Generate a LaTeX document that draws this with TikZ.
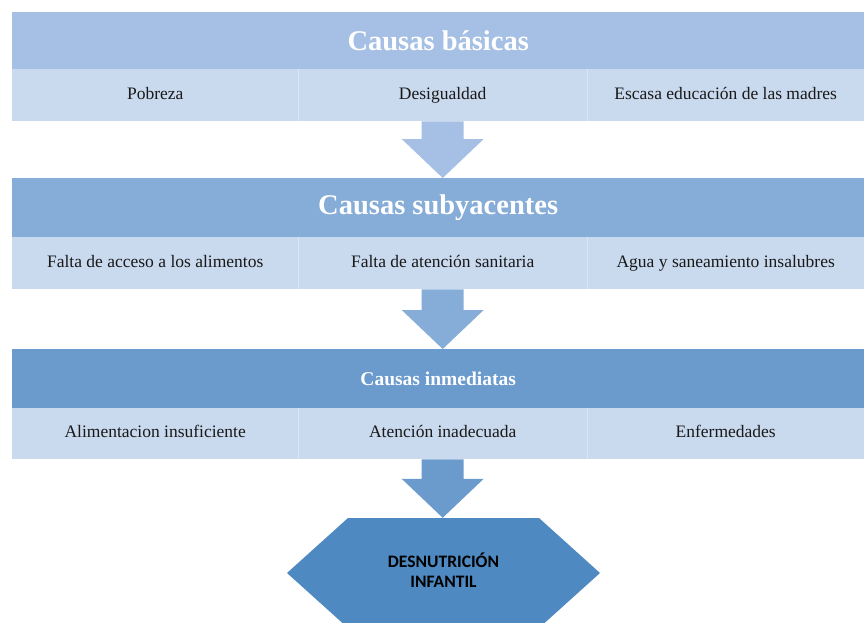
\documentclass[tikz,border=0pt]{standalone}
\usepackage{fontspec}
\setmainfont{Liberation Serif}
\newfontfamily\hexfont{Carlito}
\usepackage{tikz}
\usetikzlibrary{calc}

\definecolor{headA}{HTML}{A5C0E4}
\definecolor{headB}{HTML}{86ACD8}
\definecolor{headC}{HTML}{6B9BCD}
\definecolor{cellbg}{HTML}{C9D9EE}
\definecolor{hexfill}{HTML}{4F89C1}

\tikzset{
  head/.style={fill=#1, minimum width=852pt, minimum height=59pt, inner sep=0pt,
    anchor=north west, text=white},
  cell/.style={fill=cellbg, minimum height=52pt, inner sep=0pt, anchor=north west,
    text height=12pt, text depth=4pt, text=black!90, font=\fontsize{17.5}{20}\selectfont},
  divider/.style={draw=white, opacity=0.35, line width=0.8pt},
}

% block arrow from the middle cell of one band down to the next shape
\newcommand{\blockarrow}[3]{%
  \fill[#1] let \p1=(#2.south), \p2=(#3.north) in
    (\x1-21pt,\y1) -- (\x1+21pt,\y1) -- (\x1+21pt,\y2+39pt) -- (\x1+41pt,\y2+39pt)
    -- (\x1,\y2) -- (\x1-41pt,\y2+39pt) -- (\x1-21pt,\y2+39pt) -- cycle;}

\begin{document}
\begin{tikzpicture}[x=1pt,y=-1pt]
        \useasboundingbox (0,0) rectangle (864,623);
        % Causas basicas
        \node[head=headA, minimum height=57pt, font=\bfseries\fontsize{28.5}{32}\selectfont] (basic) at (12,12) {Causas básicas};
        \node[cell, minimum width=286pt] (basic1) at (12,69) {Pobreza};
        \node[cell, minimum width=289pt] (basic2) at (298,69) {Desigualdad};
        \node[cell, minimum width=277pt] (basic3) at (587,69) {Escasa educación de las madres};
        \draw[divider] (basic2.north west) -- (basic2.south west);
        \draw[divider] (basic3.north west) -- (basic3.south west);
        % Causas subyacentes
        \node[head=headB, font=\bfseries\fontsize{28.5}{32}\selectfont] (under) at (12,178) {Causas subyacentes};
        \node[cell, minimum width=286pt] (under1) at (12,237) {Falta de acceso a los alimentos};
        \node[cell, minimum width=289pt] (under2) at (298,237) {Falta de atención sanitaria};
        \node[cell, minimum width=277pt] (under3) at (587,237) {Agua y saneamiento insalubres};
        \draw[divider] (under2.north west) -- (under2.south west);
        \draw[divider] (under3.north west) -- (under3.south west);
        % Causas inmediatas
        \node[head=headC, font=\bfseries\fontsize{19.5}{23}\selectfont] (direct) at (12,349) {Causas inmediatas};
        \node[cell, minimum width=286pt, minimum height=51pt] (direct1) at (12,408) {Alimentacion insuficiente};
        \node[cell, minimum width=289pt, minimum height=51pt] (direct2) at (298,408) {Atención inadecuada};
        \node[cell, minimum width=277pt, minimum height=51pt] (direct3) at (587,408) {Enfermedades};
        \draw[divider] (direct2.north west) -- (direct2.south west);
        \draw[divider] (direct3.north west) -- (direct3.south west);
        % Desnutricion
        \fill[hexfill] (348,518) -- (539,518) -- (600,573) -- (539,628) -- (348,628) -- (287,573) -- cycle;
        \node[minimum width=191pt, minimum height=110pt, inner sep=0pt] (hex) at (443.5,573) {};
        \node[align=center, inner sep=0pt, font=\hexfont\bfseries\fontsize{17.5}{19.5}\selectfont]
          (hextext) at (443.5,570) {DESNUTRICIÓN\\INFANTIL};
        % arrows
        \blockarrow{headA}{basic2}{under}
        \blockarrow{headB}{under2}{direct}
        \blockarrow{headC}{direct2}{hex}
    \end{tikzpicture}
\end{document}
